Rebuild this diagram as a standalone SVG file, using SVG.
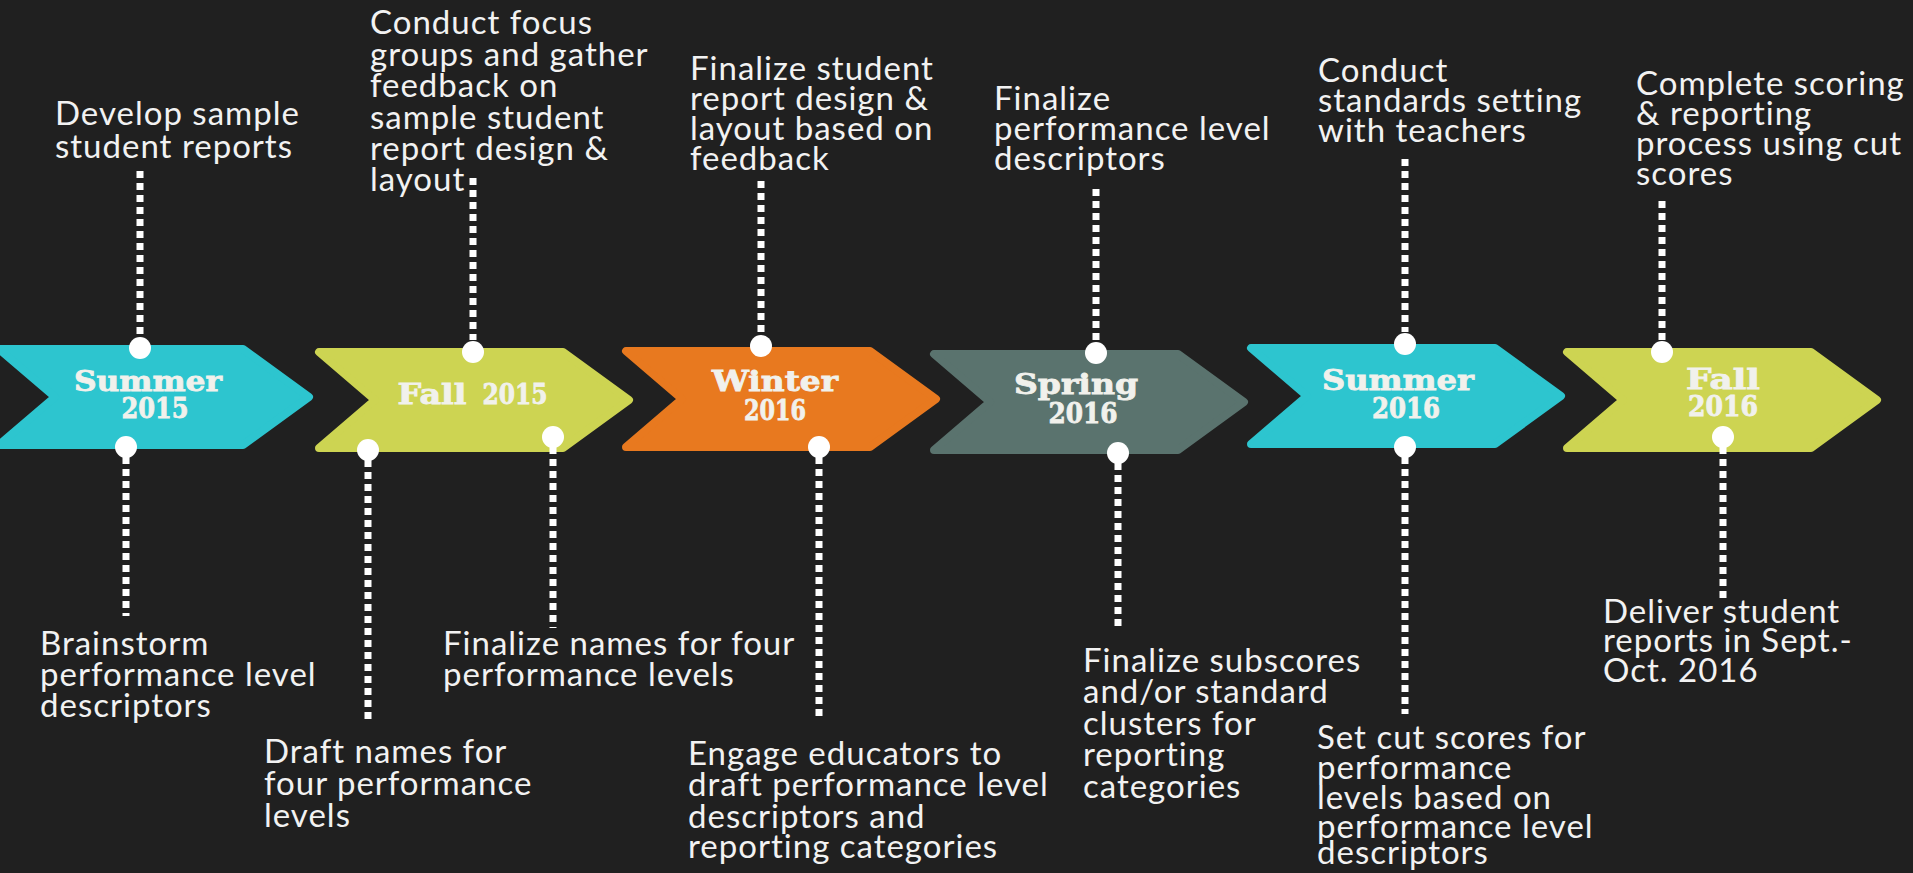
<svg xmlns="http://www.w3.org/2000/svg" width="1913" height="873" viewBox="0 0 1913 873">
<defs>
<style>
.bg{fill:#202020}
.arrow{stroke-linejoin:round;stroke-width:8}
.cyan{fill:#2dc5cf;stroke:#2dc5cf}
.lime{fill:#cdd452;stroke:#cdd452}
.orange{fill:#e8791f;stroke:#e8791f}
.slate{fill:#5a736e;stroke:#5a736e}
.lbl{font-family:"DejaVu Serif",serif;font-weight:bold;font-size:27px;fill:#f1f1ec;stroke:#f1f1ec;stroke-width:0.8;text-anchor:middle}
.note{font-family:Lato,"Open Sans",sans-serif;font-size:33px;letter-spacing:1px;fill:#f2f2f2}
.dot{stroke:#ffffff;stroke-width:7;stroke-dasharray:7 5;fill:none}
.pin{fill:#ffffff}
</style>
<path id="chev" d="M0,0 H244 L310,48 L244,96 H0 L56,48 Z"/>
</defs>
<rect class="bg" x="0" y="0" width="1913" height="873"/>

<g id="summer-2015">
<use href="#chev" class="arrow cyan" transform="translate(-1,349)"/>
<text class="lbl" x="148" y="391" textLength="148" lengthAdjust="spacingAndGlyphs">Summer</text>
<text class="lbl" x="155" y="418" textLength="67" lengthAdjust="spacingAndGlyphs">2015</text>
</g>
<g id="fall-2015">
<use href="#chev" class="arrow lime" transform="translate(319,352)"/>
<text class="lbl" x="432" y="404" textLength="69" lengthAdjust="spacingAndGlyphs">Fall</text>
<text class="lbl" x="515" y="404" textLength="65" lengthAdjust="spacingAndGlyphs">2015</text>
</g>
<g id="winter-2016">
<use href="#chev" class="arrow orange" transform="translate(626,351)"/>
<text class="lbl" x="775" y="391" textLength="126" lengthAdjust="spacingAndGlyphs">Winter</text>
<text class="lbl" x="775" y="420" textLength="62" lengthAdjust="spacingAndGlyphs">2016</text>
</g>
<g id="spring-2016">
<use href="#chev" class="arrow slate" transform="translate(934,354)"/>
<text class="lbl" x="1076" y="394" textLength="124" lengthAdjust="spacingAndGlyphs">Spring</text>
<text class="lbl" x="1083" y="423" textLength="69" lengthAdjust="spacingAndGlyphs">2016</text>
</g>
<g id="summer-2016">
<use href="#chev" class="arrow cyan" transform="translate(1251,348)"/>
<text class="lbl" x="1398" y="390" textLength="152" lengthAdjust="spacingAndGlyphs">Summer</text>
<text class="lbl" x="1406" y="418" textLength="68" lengthAdjust="spacingAndGlyphs">2016</text>
</g>
<g id="fall-2016">
<use href="#chev" class="arrow lime" transform="translate(1567,352)"/>
<text class="lbl" x="1723" y="389" textLength="74" lengthAdjust="spacingAndGlyphs">Fall</text>
<text class="lbl" x="1723" y="416" textLength="70" lengthAdjust="spacingAndGlyphs">2016</text>
</g>

<g id="connectors">
<line class="dot" x1="140" y1="171" x2="140" y2="336"/>
<line class="dot" x1="126" y1="457" x2="126" y2="616"/>
<line class="dot" x1="473" y1="178" x2="473" y2="340"/>
<line class="dot" x1="368" y1="460" x2="368" y2="720"/>
<line class="dot" x1="553" y1="447" x2="553" y2="628"/>
<line class="dot" x1="761" y1="181" x2="761" y2="334"/>
<line class="dot" x1="819" y1="457" x2="819" y2="720"/>
<line class="dot" x1="1096" y1="189" x2="1096" y2="342"/>
<line class="dot" x1="1118" y1="463" x2="1118" y2="628"/>
<line class="dot" x1="1405" y1="159" x2="1405" y2="332"/>
<line class="dot" x1="1405" y1="457" x2="1405" y2="714"/>
<line class="dot" x1="1662" y1="201" x2="1662" y2="340"/>
<line class="dot" x1="1723" y1="447" x2="1723" y2="598"/>
<circle class="pin" cx="140" cy="348" r="11"/>
<circle class="pin" cx="126" cy="447" r="11"/>
<circle class="pin" cx="473" cy="352" r="11"/>
<circle class="pin" cx="368" cy="450" r="11"/>
<circle class="pin" cx="553" cy="437" r="11"/>
<circle class="pin" cx="761" cy="346" r="11"/>
<circle class="pin" cx="819" cy="447" r="11"/>
<circle class="pin" cx="1096" cy="353" r="11"/>
<circle class="pin" cx="1118" cy="453" r="11"/>
<circle class="pin" cx="1405" cy="344" r="11"/>
<circle class="pin" cx="1405" cy="447" r="11"/>
<circle class="pin" cx="1662" cy="352" r="11"/>
<circle class="pin" cx="1723" cy="437" r="11"/>
</g>

<g id="note-develop">
<text class="note"><tspan x="55" y="125">Develop sample</tspan><tspan x="55" y="158">student reports</tspan></text>
</g>
<g id="note-focus-groups">
<text class="note"><tspan x="370" y="34">Conduct focus</tspan><tspan x="370" y="65.5">groups and gather</tspan><tspan x="370" y="97">feedback on</tspan><tspan x="370" y="128.5">sample student</tspan><tspan x="370" y="160">report design &amp;</tspan><tspan x="370" y="191">layout</tspan></text>
</g>
<g id="note-finalize-design">
<text class="note"><tspan x="690" y="80">Finalize student</tspan><tspan x="690" y="109.5">report design &amp;</tspan><tspan x="690" y="140">layout based on</tspan><tspan x="690" y="170">feedback</tspan></text>
</g>
<g id="note-finalize-pld">
<text class="note"><tspan x="994" y="109.5">Finalize</tspan><tspan x="994" y="140">performance level</tspan><tspan x="994" y="170">descriptors</tspan></text>
</g>
<g id="note-standards">
<text class="note"><tspan x="1318" y="82">Conduct</tspan><tspan x="1318" y="111.5">standards setting</tspan><tspan x="1318" y="142">with teachers</tspan></text>
</g>
<g id="note-complete">
<text class="note"><tspan x="1636" y="95">Complete scoring</tspan><tspan x="1636" y="125">&amp; reporting</tspan><tspan x="1636" y="155">process using cut</tspan><tspan x="1636" y="185">scores</tspan></text>
</g>
<g id="note-brainstorm">
<text class="note"><tspan x="40" y="655">Brainstorm</tspan><tspan x="40" y="686">performance level</tspan><tspan x="40" y="717">descriptors</tspan></text>
</g>
<g id="note-draft-names">
<text class="note"><tspan x="264" y="763">Draft names for</tspan><tspan x="264" y="795">four performance</tspan><tspan x="264" y="827">levels</tspan></text>
</g>
<g id="note-finalize-names">
<text class="note"><tspan x="443" y="655">Finalize names for four</tspan><tspan x="443" y="686">performance levels</tspan></text>
</g>
<g id="note-engage">
<text class="note"><tspan x="688" y="765">Engage educators to</tspan><tspan x="688" y="796">draft performance level</tspan><tspan x="688" y="828">descriptors and</tspan><tspan x="688" y="858">reporting categories</tspan></text>
</g>
<g id="note-subscores">
<text class="note"><tspan x="1083" y="672">Finalize subscores</tspan><tspan x="1083" y="703">and/or standard</tspan><tspan x="1083" y="735">clusters for</tspan><tspan x="1083" y="766">reporting</tspan><tspan x="1083" y="798">categories</tspan></text>
</g>
<g id="note-cut-scores">
<text class="note"><tspan x="1317" y="749">Set cut scores for</tspan><tspan x="1317" y="779">performance</tspan><tspan x="1317" y="809">levels based on</tspan><tspan x="1317" y="838">performance level</tspan><tspan x="1317" y="864">descriptors</tspan></text>
</g>
<g id="note-deliver">
<text class="note"><tspan x="1603" y="623">Deliver student</tspan><tspan x="1603" y="652">reports in Sept.-</tspan><tspan x="1603" y="682">Oct. 2016</tspan></text>
</g>
</svg>
